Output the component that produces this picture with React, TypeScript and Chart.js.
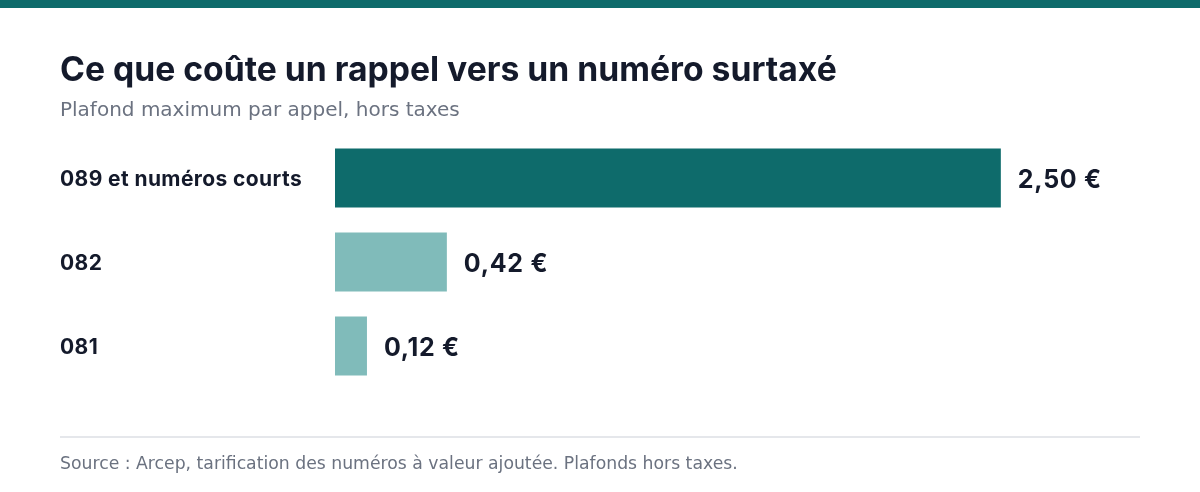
import { useEffect, useRef } from 'react';
import { Chart, registerables } from 'chart.js';
import type { ChartConfiguration } from 'chart.js';

Chart.register(...registerables);

const categories = ['089 et numéros courts', '082', '081'];
const values = [2.5, 0.42, 0.12];
const valueLabels = ['2,50 €', '0,42 €', '0,12 €'];
const barColors = ['#0e6b6b', '#80bbba', '#80bbba'];

const TEXT_DARK = '#141a2b';
const TEXT_GRAY = '#6b7280';
const LABEL_FONT = 'Inter, "Noto Sans", sans-serif';

function BarChart() {
  const canvasRef = useRef<HTMLCanvasElement>(null);
  const chartRef = useRef<Chart | null>(null);

  useEffect(() => {
    if (!canvasRef.current) return;
    const ctx = canvasRef.current.getContext('2d');
    if (!ctx) return;
    if (chartRef.current) chartRef.current.destroy();

    const config: ChartConfiguration<'bar'> = {
      type: 'bar',
      data: {
        labels: categories,
        datasets: [
          {
            data: values,
            backgroundColor: barColors,
            borderWidth: 0,
            categoryPercentage: 0.7,
            barPercentage: 1,
          },
        ],
      },
      options: {
        indexAxis: 'y',
        animation: false,
        responsive: false,
        maintainAspectRatio: false,
        layout: { padding: { left: 60, top: 136, bottom: 104, right: 66 } },
        plugins: {
          legend: { display: false },
          tooltip: { enabled: false },
        },
        scales: {
          x: {
            min: 0,
            max: 3,
            display: false,
          },
          y: {
            border: { display: false },
            grid: { display: false },
            ticks: {
              crossAlign: 'far',
              labelOffset: 2,
              color: TEXT_DARK,
              font: { family: LABEL_FONT, size: 21, weight: 'bold' },
            },
            afterFit: (scale) => {
              scale.width = 275;
            },
          },
        },
      },
      plugins: [
        {
          id: 'spacing',
          beforeDraw(chart) {
            // slightly looser tracking for the tick labels
            (chart.ctx as any).letterSpacing = '0.4px';
          },
        },
        {
          id: 'valueLabels',
          afterDatasetsDraw(chart) {
            const c = chart.ctx;
            const meta = chart.getDatasetMeta(0);
            c.save();
            (c as any).letterSpacing = '0.7px';
            c.font = `bold 25px ${LABEL_FONT}`;
            c.fillStyle = TEXT_DARK;
            c.textAlign = 'left';
            c.textBaseline = 'middle';
            meta.data.forEach((bar, i) => {
              c.fillText(valueLabels[i], bar.x + 17, bar.y + 2);
            });
            c.restore();
          },
        },
      ],
    };

    chartRef.current = new Chart(ctx, config);
    return () => {
      if (chartRef.current) {
        chartRef.current.destroy();
        chartRef.current = null;
      }
    };
  }, []);

  return (
    <canvas
      ref={canvasRef}
      width={1200}
      height={492}
      style={{ position: 'absolute', left: 0, top: 0, display: 'block' }}
    />
  );
}

export default function App() {
  return (
    <div
      style={{
        position: 'fixed',
        left: 0,
        top: 0,
        width: 1200,
        height: 492,
        background: '#ffffff',
        overflow: 'hidden',
      }}
    >
      <div style={{ position: 'absolute', left: 0, top: 0, width: 1200, height: 8, background: '#0e6b6b' }} />
      <BarChart />
      <div
        style={{
          position: 'absolute',
          left: 60,
          top: 49,
          fontFamily: LABEL_FONT,
          fontWeight: 700,
          fontSize: 33.7,
          lineHeight: '40px',
          color: TEXT_DARK,
          whiteSpace: 'nowrap',
        }}
      >
        Ce que coûte un rappel vers un numéro surtaxé
      </div>
      <div
        style={{
          position: 'absolute',
          left: 60,
          top: 96,
          fontFamily: '"DejaVu Sans", sans-serif',
          fontSize: 20,
          lineHeight: '26px',
          color: TEXT_GRAY,
          whiteSpace: 'nowrap',
        }}
      >
        Plafond maximum par appel, hors taxes
      </div>
      <div style={{ position: 'absolute', left: 60, top: 436, width: 1080, height: 2, background: '#e5e7eb' }} />
      <div
        style={{
          position: 'absolute',
          left: 60,
          top: 451,
          fontFamily: '"DejaVu Sans", sans-serif',
          fontSize: 17.25,
          lineHeight: '24px',
          color: TEXT_GRAY,
          whiteSpace: 'nowrap',
        }}
      >
        Source : Arcep, tarification des numéros à valeur ajoutée. Plafonds hors taxes.
      </div>
    </div>
  );
}
